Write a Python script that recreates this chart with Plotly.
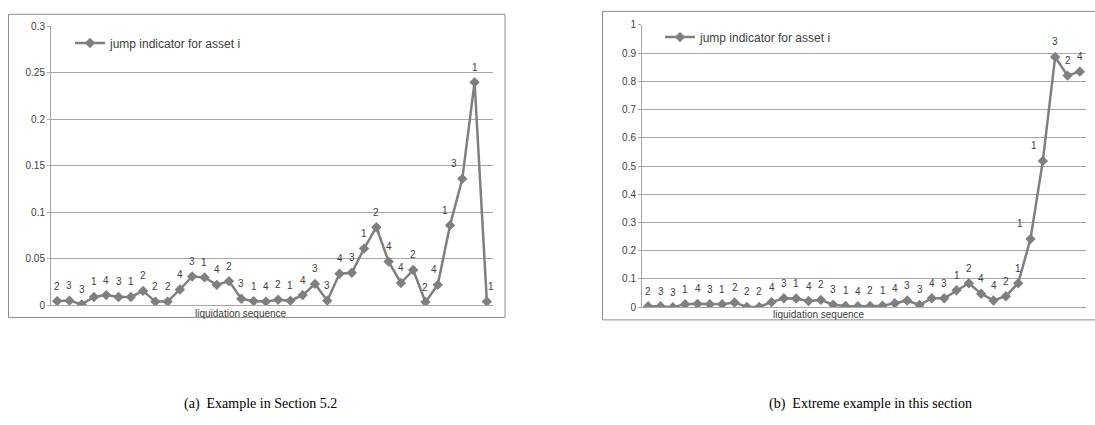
import plotly.graph_objects as go

# ---------------- data ----------------
seq = list(range(1, 37))

labels_a = [2, 3, 3, 1, 4, 3, 1, 2, 2, 2, 4, 3, 1, 4, 2, 3, 1, 4, 2, 1, 4, 3, 3, 4, 3, 1,
            2, 4, 4, 2, 2, 4, 1, 3, 1, 1]
values_a = [0.0045, 0.005, 0.001, 0.009, 0.011, 0.009, 0.009, 0.0155, 0.004, 0.004,
            0.017, 0.031, 0.030, 0.022, 0.026, 0.007, 0.0045, 0.004, 0.006, 0.005,
            0.011, 0.023, 0.005, 0.034, 0.035, 0.061, 0.084, 0.047, 0.024, 0.038,
            0.0035, 0.022, 0.086, 0.136, 0.240, 0.004]

labels_b = [2, 3, 3, 1, 4, 3, 1, 2, 2, 2, 4, 3, 1, 4, 2, 3, 1, 4, 2, 1, 4, 3, 3, 4, 3, 1,
            2, 4, 4, 2, 1, 1, 1, 3, 2, 4]
values_b = [0.0035, 0.0035, 0.0, 0.011, 0.012, 0.011, 0.011, 0.017, 0.001, 0.001,
            0.018, 0.032, 0.031, 0.022, 0.026, 0.009, 0.0045, 0.0035, 0.0045, 0.0057,
            0.014, 0.024, 0.008, 0.032, 0.032, 0.060, 0.085, 0.048, 0.024, 0.039,
            0.085, 0.242, 0.518, 0.886, 0.820, 0.834]

legend_name = "jump indicator for asset i"
axis_title = "liquidation sequence"
caption_a = "(a)  Example in Section 5.2"
caption_b = "(b)  Extreme example in this section"

# ---------------- style ----------------
W, H = 1095, 425
LINE = "#7f7f7f"
GRID = "#a6a6a6"
TXT = "#404040"
FONT = "Liberation Sans, Arial, sans-serif"

def px(x):
    return x / W

def py(y):
    return 1 - y / H

# label horizontal nudges (index -> px), Excel-style manual placement
shift_a = {32: -4, 33: -5, 34: -8, 36: 4}
shift_b = {32: -11, 33: -9}

fig = go.Figure()

fig.add_trace(go.Scatter(
    x=seq, y=values_a, mode="lines+markers", name=legend_name,
    line=dict(color=LINE, width=2.5),
    marker=dict(symbol="diamond", size=8, color=LINE),
    xaxis="x", yaxis="y", legend="legend", showlegend=True))
fig.add_trace(go.Scatter(
    x=seq, y=values_b, mode="lines+markers", name=legend_name,
    line=dict(color=LINE, width=2.5),
    marker=dict(symbol="diamond", size=8, color=LINE),
    xaxis="x2", yaxis="y2", legend="legend2", showlegend=True))

annotations = []
for i, (v, l) in enumerate(zip(values_a, labels_a), start=1):
    annotations.append(dict(x=i, y=v, xref="x", yref="y", text=str(l), showarrow=False,
                            yshift=15, xshift=shift_a.get(i, 0),
                            font=dict(family=FONT, size=10, color=TXT)))
for i, (v, l) in enumerate(zip(values_b, labels_b), start=1):
    annotations.append(dict(x=i, y=v, xref="x2", yref="y2", text=str(l), showarrow=False,
                            yshift=15, xshift=shift_b.get(i, 0),
                            font=dict(family=FONT, size=10, color=TXT)))

annotations += [
    dict(x=px(241), y=py(316), xref="paper", yref="paper", text=axis_title, showarrow=False,
         xanchor="center", yanchor="middle", font=dict(family=FONT, size=10, color=TXT)),
    dict(x=px(819), y=py(317), xref="paper", yref="paper", text=axis_title, showarrow=False,
         xanchor="center", yanchor="middle", font=dict(family=FONT, size=10, color=TXT)),
    dict(x=px(260), y=py(410), xref="paper", yref="paper", text=caption_a, showarrow=False,
         xanchor="center", yanchor="middle",
         font=dict(family="Liberation Serif, Times New Roman, serif", size=14, color="#000000")),
    dict(x=px(870), y=py(410), xref="paper", yref="paper", text=caption_b, showarrow=False,
         xanchor="center", yanchor="middle",
         font=dict(family="Liberation Serif, Times New Roman, serif", size=14, color="#000000")),
]

shapes = [
    dict(type="rect", xref="paper", yref="paper", x0=px(8.5), x1=px(505), y0=py(320.5), y1=py(8.5),
         line=dict(color="#8c8c8c", width=1)),
    dict(type="rect", xref="paper", yref="paper", x0=px(602.5), x1=px(1100), y0=py(323), y1=py(5.5),
         line=dict(color="#8c8c8c", width=1)),
]

xcommon = dict(showticklabels=False, showgrid=False, zeroline=False, showline=True,
               linecolor=GRID, linewidth=1, ticks="", fixedrange=True)
ycommon = dict(showgrid=True, gridcolor=GRID, gridwidth=1, zeroline=False, showline=True,
               linecolor=GRID, linewidth=1, ticks="outside", ticklen=3, tickcolor=GRID,
               tickfont=dict(family=FONT, size=10, color=TXT), fixedrange=True)

fig.update_layout(
    width=W, height=H,
    margin=dict(l=0, r=0, t=0, b=0),
    paper_bgcolor="white", plot_bgcolor="white",
    font=dict(family=FONT, color=TXT),
    hovermode=False,
    xaxis=dict(domain=[px(51), px(493)], range=[0.5, 36.5], anchor="y", **xcommon),
    yaxis=dict(domain=[py(308), py(21)], range=[0, 0.3], dtick=0.05, anchor="x", **ycommon),
    xaxis2=dict(domain=[px(642), px(1086)], range=[0.5, 36.5], anchor="y2", **xcommon),
    yaxis2=dict(domain=[py(310), py(19.3)], range=[0, 1], dtick=0.1, anchor="x2", **ycommon),
    legend=dict(x=px(70), y=py(38), xanchor="left", yanchor="middle", bgcolor="rgba(0,0,0,0)",
                font=dict(family=FONT, size=12, color=TXT), itemwidth=30),
    legend2=dict(x=px(660), y=py(32), xanchor="left", yanchor="middle", bgcolor="rgba(0,0,0,0)",
                 font=dict(family=FONT, size=12, color=TXT), itemwidth=30),
    annotations=annotations,
    shapes=shapes,
)

fig.write_html("out.html",
               config={"displayModeBar": False, "staticPlot": True},
               post_script="document.body.style.margin='0';document.body.style.overflow='hidden';")
